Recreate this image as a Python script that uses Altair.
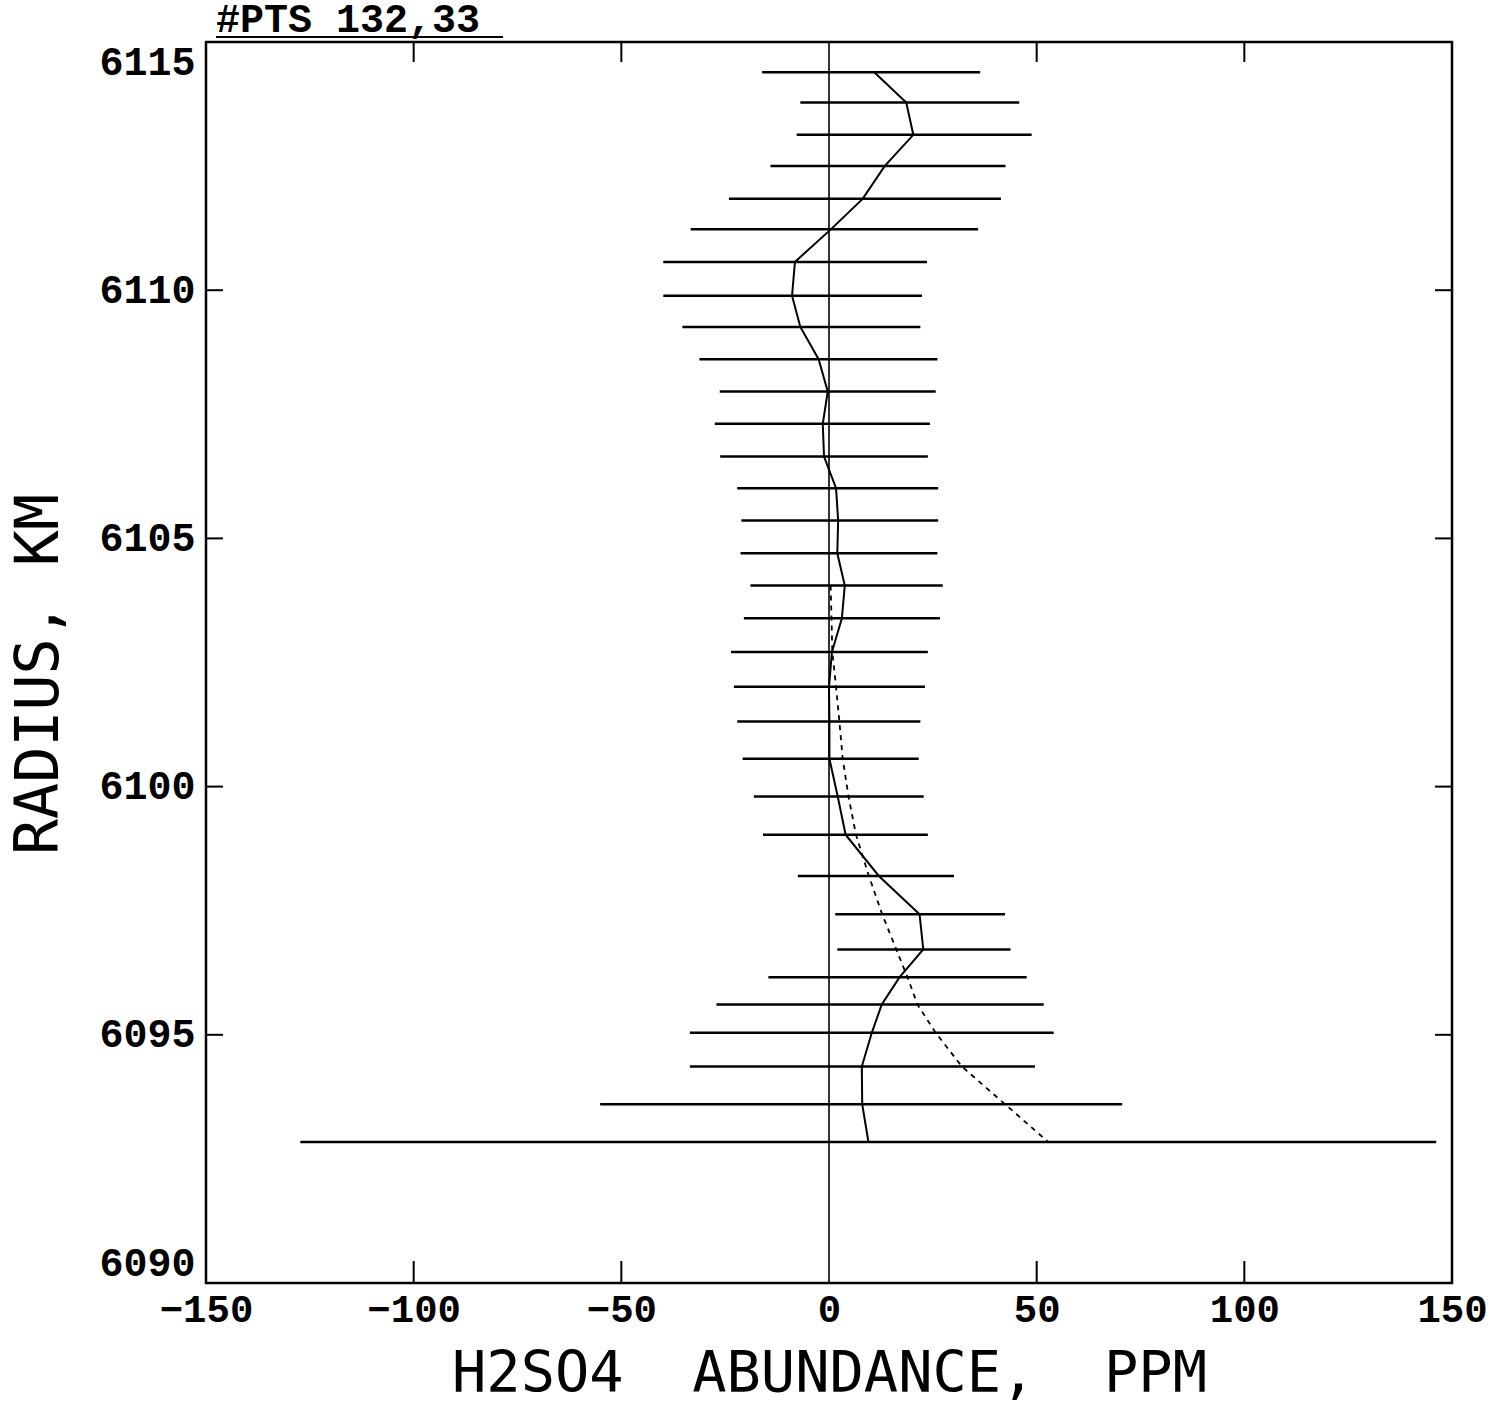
import altair as alt
import pandas as pd

# ---- data ----
radius = [6114.39, 6113.78, 6113.13, 6112.50, 6111.84, 6111.23, 6110.57, 6109.89,
          6109.26, 6108.61, 6107.96, 6107.31, 6106.65, 6106.01, 6105.36, 6104.70,
          6104.05, 6103.39, 6102.71, 6102.01, 6101.31, 6100.56, 6099.80, 6099.03,
          6098.20, 6097.43, 6096.72, 6096.16, 6095.61, 6095.04, 6094.36, 6093.60,
          6092.84]
abundance = [10.9, 18.6, 20.3, 13.4, 8.1, 0.5, -8.2, -8.9, -6.9, -2.5, -0.3, -1.5,
             -1.2, 1.7, 2.2, 2.0, 3.8, 3.1, 0.7, 0.0, 0.1, 0.1, 2.1, 4.0, 12.0, 21.8,
             22.7, 17.0, 12.7, 10.3, 7.9, 8.0, 9.5]
err_lo = [-16.1, -6.9, -7.8, -14.1, -24.1, -33.3, -39.9, -39.9, -35.3, -31.2, -26.3,
          -27.5, -26.2, -22.1, -21.1, -21.3, -18.9, -20.5, -23.6, -22.9, -22.1, -20.8,
          -18.1, -15.9, -7.5, 1.5, 2.0, -14.6, -27.1, -33.5, -33.5, -55.1, -127.3]
err_hi = [36.4, 45.8, 48.8, 42.5, 41.4, 35.9, 23.6, 22.4, 22.0, 26.1, 25.7, 24.3,
          23.8, 26.3, 26.3, 26.1, 27.4, 26.7, 23.8, 23.1, 22.0, 21.6, 22.8, 23.8, 30.1,
          42.4, 43.7, 47.6, 51.7, 54.1, 49.6, 70.6, 146.2]
# dashed model profile (rows 17..33)
model_radius = radius[16:]
model_abund = [0.4, 0.6, 0.8, 1.7, 2.5, 3.3, 4.7, 6.5, 9.6, 12.8, 16.2, 18.9, 21.3,
               25.7, 32.0, 42.4, 52.8]

x_ticks = [-150, -100, -50, 0, 50, 100, 150]
y_ticks = [6090, 6095, 6100, 6105, 6110, 6115]
inner_x_ticks = [-100, -50, 50, 100]
inner_y_ticks = [6095, 6100, 6105, 6110]

W, H = 1246, 1241
LABEL_FONT = "Liberation Mono"
TITLE_FONT = "DejaVu Sans Mono"

df = pd.DataFrame({"radius": radius, "abund": abundance, "lo": err_lo, "hi": err_hi,
                   "idx": list(range(len(radius)))})
dm = pd.DataFrame({"radius": model_radius, "abund": model_abund,
                   "idx": list(range(len(model_radius)))})
dxt = pd.DataFrame({"v": inner_x_ticks})
dyt = pd.DataFrame({"v": inner_y_ticks})

xscale = alt.Scale(domain=[-150, 150], nice=False, zero=False)
yscale = alt.Scale(domain=[6090, 6115], nice=False, zero=False)

xaxis = alt.Axis(values=x_ticks, ticks=False, domain=False, grid=False, format="d",
                 labelFont=LABEL_FONT, labelFontSize=39, labelFontWeight="bold",
                 labelColor="black", labelPadding=7, labelFlush=False,
                 title="H2SO4\u00a0\u00a0ABUNDANCE,\u00a0\u00a0PPM",
                 titleFont=TITLE_FONT, titleFontSize=57, titleFontWeight="normal",
                 titleColor="black", titleY=108, titleBaseline="alphabetic")
yaxis = alt.Axis(values=y_ticks, ticks=False, domain=False, grid=False, format="d",
                 labelFont=LABEL_FONT, labelFontSize=40, labelFontWeight="bold",
                 labelColor="black", labelPadding=11, labelFlush=True,
                 title="RADIUS,\u00a0KM", titleFont=TITLE_FONT, titleFontSize=60,
                 titleFontWeight="normal", titleColor="black", titleAngle=-90,
                 titleX=-149, titleY=632, titleBaseline="alphabetic", titleAlign="center")

bars = alt.Chart(df).mark_rule(color="black", strokeWidth=2.5).encode(
    x=alt.X("lo:Q", scale=xscale, axis=xaxis),
    x2="hi:Q",
    y=alt.Y("radius:Q", scale=yscale, axis=yaxis),
)

line = alt.Chart(df).mark_line(color="black", strokeWidth=2).encode(
    x=alt.X("abund:Q", scale=xscale),
    y=alt.Y("radius:Q", scale=yscale),
    order="idx:Q",
)

model = alt.Chart(dm).mark_line(color="black", strokeWidth=1.8, strokeDash=[5, 5]).encode(
    x=alt.X("abund:Q", scale=xscale),
    y=alt.Y("radius:Q", scale=yscale),
    order="idx:Q",
)

zero = alt.Chart(pd.DataFrame({"v": [0]})).mark_rule(color="black", strokeWidth=1.6).encode(
    x=alt.X("v:Q", scale=xscale), y=alt.value(0), y2=alt.value(H))

tick_bottom = alt.Chart(dxt).mark_rule(color="black", strokeWidth=2).encode(
    x=alt.X("v:Q", scale=xscale), y=alt.value(H), y2=alt.value(H - 22))
tick_top = alt.Chart(dxt).mark_rule(color="black", strokeWidth=2).encode(
    x=alt.X("v:Q", scale=xscale), y=alt.value(0), y2=alt.value(20))
tick_left = alt.Chart(dyt).mark_rule(color="black", strokeWidth=2).encode(
    y=alt.Y("v:Q", scale=yscale), x=alt.value(0), x2=alt.value(17))
tick_right = alt.Chart(dyt).mark_rule(color="black", strokeWidth=2).encode(
    y=alt.Y("v:Q", scale=yscale), x=alt.value(W - 17), x2=alt.value(W))

pts = alt.Chart(pd.DataFrame({"t": ["#PTS 132,33"]})).mark_text(
    font=LABEL_FONT, fontSize=40, fontWeight="bold", color="black",
    align="left", baseline="alphabetic").encode(
    text="t:N", x=alt.value(10), y=alt.value(-10))
underline = alt.Chart(pd.DataFrame({"t": [1]})).mark_rule(color="black", strokeWidth=2).encode(
    x=alt.value(10), x2=alt.value(297), y=alt.value(-5))

chart = alt.layer(bars, line, model, zero, tick_bottom, tick_top, tick_left, tick_right,
                  pts, underline).properties(
    width=W, height=H,
    autosize=alt.AutoSizeParams(type="none"),
    padding={"left": 206, "top": 42, "right": 50, "bottom": 122},
    background="white",
).configure_view(stroke="black", strokeWidth=2.5)

chart.save("out.html", embed_options={"renderer": "svg", "actions": False})
